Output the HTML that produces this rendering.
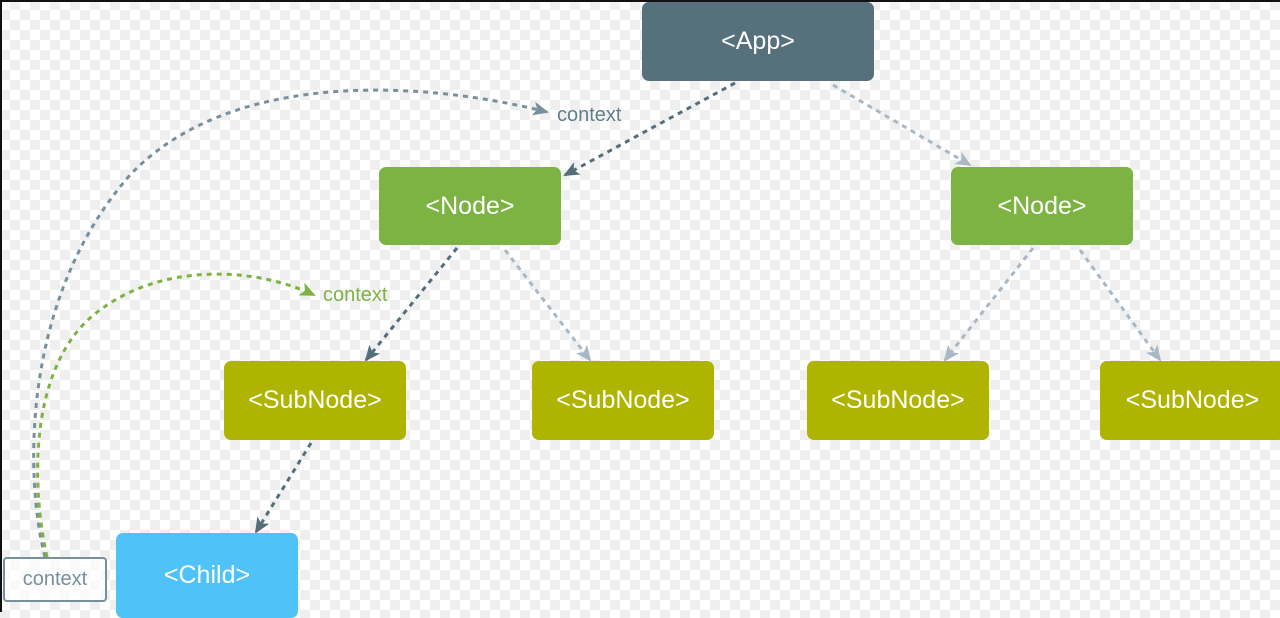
<!DOCTYPE html>
<html><head><meta charset="utf-8"><style>
html,body{margin:0;padding:0}
body{width:1280px;height:612px;overflow:hidden;position:relative;font-family:"Liberation Sans",sans-serif;
background-color:#fff;background-image:linear-gradient(45deg,#efefef 25%,transparent 25%,transparent 75%,#efefef 75%),linear-gradient(45deg,#efefef 25%,transparent 25%,transparent 75%,#efefef 75%);background-size:20px 20px;background-position:0 0,10px 10px;}
.b{position:absolute;border-radius:7px;color:#fff;font-size:25px;display:flex;align-items:center;justify-content:center}
.app{background:#56707c}.node{background:#7cb342}.sub{background:#afb400}.child{background:#4fc3f7}
.edge{position:absolute;left:0;top:0;width:2px;height:612px;background:#111}
.edgeT{position:absolute;left:0;top:0;width:1280px;height:2px;background:#111}
</style></head><body>
<div class="edge"></div><div class="edgeT"></div>
<svg width="1280" height="612" style="position:absolute;left:0;top:0">
<defs>
<marker id="d" markerWidth="16" markerHeight="14" refX="14" refY="7" orient="auto" markerUnits="userSpaceOnUse"><path d="M0,0 L16,7 L0,14 L4,7 z" fill="#546e7a"/></marker>
<marker id="l" markerWidth="16" markerHeight="14" refX="14" refY="7" orient="auto" markerUnits="userSpaceOnUse"><path d="M0,0 L16,7 L0,14 L4,7 z" fill="#a9b8c4"/></marker>
<marker id="g" markerWidth="16" markerHeight="14" refX="14" refY="7" orient="auto" markerUnits="userSpaceOnUse"><path d="M0,0 L16,7 L0,14 L4,7 z" fill="#7cb342"/></marker>
<marker id="m" markerWidth="16" markerHeight="14" refX="14" refY="7" orient="auto" markerUnits="userSpaceOnUse"><path d="M0,0 L16,7 L0,14 L4,7 z" fill="#78909c"/></marker>
</defs>
<g fill="none" stroke-width="3" stroke-dasharray="5,5">
<line x1="735" y1="83" x2="565" y2="175" stroke="#546e7a" marker-end="url(#d)"/>
<line x1="833" y1="85" x2="970" y2="165" stroke="#a9b8c4" marker-end="url(#l)"/>
<line x1="457" y1="248" x2="366" y2="360" stroke="#546e7a" marker-end="url(#d)"/>
<line x1="505" y1="250" x2="590" y2="360" stroke="#a9b8c4" marker-end="url(#l)"/>
<line x1="1033" y1="248" x2="945" y2="360" stroke="#a9b8c4" marker-end="url(#l)"/>
<line x1="1080" y1="250" x2="1160" y2="360" stroke="#a9b8c4" marker-end="url(#l)"/>
<line x1="311" y1="443" x2="256" y2="532" stroke="#546e7a" marker-end="url(#d)"/>
<path d="M45,557 C25,480 20,300 130,175 C230,70 420,80 547,112" stroke="#78909c" marker-end="url(#m)"/>
<path d="M47,557 C30,480 30,360 100,310 C160,265 250,265 314,295" stroke="#7cb342" marker-end="url(#g)"/>
</g>
<text x="557" y="121" font-family="Liberation Sans" font-size="20" fill="#607d8b">context</text>
<text x="323" y="301" font-family="Liberation Sans" font-size="20" fill="#7cb342">context</text>
</svg>
<div class="b app" style="left:642px;top:2px;width:232px;height:79px">&lt;App&gt;</div>
<div class="b node" style="left:379px;top:167px;width:182px;height:78px">&lt;Node&gt;</div>
<div class="b node" style="left:951px;top:167px;width:182px;height:78px">&lt;Node&gt;</div>
<div class="b sub" style="left:224px;top:361px;width:182px;height:79px">&lt;SubNode&gt;</div>
<div class="b sub" style="left:532px;top:361px;width:182px;height:79px">&lt;SubNode&gt;</div>
<div class="b sub" style="left:807px;top:361px;width:182px;height:79px">&lt;SubNode&gt;</div>
<div class="b sub" style="left:1100px;top:361px;width:185px;height:79px">&lt;SubNode&gt;</div>
<div class="b child" style="left:116px;top:533px;width:182px;height:85px">&lt;Child&gt;</div>
<div class="b" style="left:3px;top:557px;width:100px;height:41px;border:2px solid #78909c;border-radius:4px;color:#78909c;font-size:20px;background:rgba(255,255,255,0.6)">context</div>
</body></html>
